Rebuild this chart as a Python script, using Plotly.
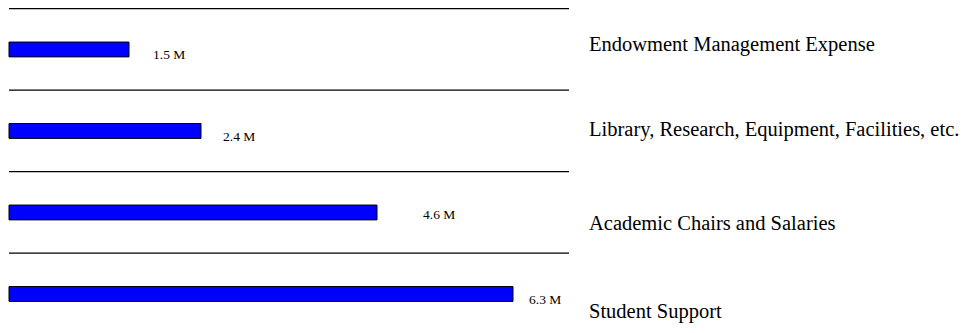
import plotly.graph_objects as go

# ---- data ----
categories = [
    "Endowment Management Expense",
    "Library, Research, Equipment, Facilities, etc.",
    "Academic Chairs and Salaries",
    "Student Support",
]
values = [1.5, 2.4, 4.6, 6.3]
value_labels = ["1.5 M", "2.4 M", "4.6 M", "6.3 M"]

# ---- style / label placement (pixel nudges) ----
label_xshift = [22, 20, 44, 14]
label_yshift = [-5, -5.5, -2, -5.5]
cat_yshift = [4.5, 1.5, -11, -18]
SERIF = "Liberation Serif, Times New Roman, serif"

fig = go.Figure(
    go.Bar(
        x=values,
        y=categories,
        orientation="h",
        width=0.182,
        marker=dict(color="#0000ff", line=dict(color="black", width=1)),
        hoverinfo="skip",
    )
)

n = len(categories)
shapes = []
for i in range(n):
    shapes.append(dict(type="line", xref="x", yref="y", x0=0, x1=7,
                       y0=i - 0.5, y1=i - 0.5,
                       line=dict(color="black", width=1.2)))

annotations = []
for i, (v, lab) in enumerate(zip(values, value_labels)):
    annotations.append(dict(x=v, y=i, xref="x", yref="y", text=lab,
                            showarrow=False, xanchor="left", yanchor="middle",
                            xshift=label_xshift[i], yshift=label_yshift[i],
                            font=dict(family=SERIF, size=13.5, color="black")))
for i, c in enumerate(categories):
    annotations.append(dict(x=7.22, y=i, xref="x", yref="y", text=c,
                            showarrow=False, xanchor="left", yanchor="middle",
                            yshift=cat_yshift[i],
                            font=dict(family=SERIF, size=20.5, color="black")))

fig.update_layout(
    width=966, height=333,
    margin=dict(l=0, r=0, t=0, b=0),
    paper_bgcolor="white", plot_bgcolor="white",
    showlegend=False,
    xaxis=dict(range=[-0.1125, 11.9625], visible=False, showgrid=False, zeroline=False),
    yaxis=dict(range=[3.479, -0.607], visible=False, showgrid=False, zeroline=False,
               categoryorder="array", categoryarray=categories),
    shapes=shapes,
    annotations=annotations,
)

fig.write_html("out.html")
